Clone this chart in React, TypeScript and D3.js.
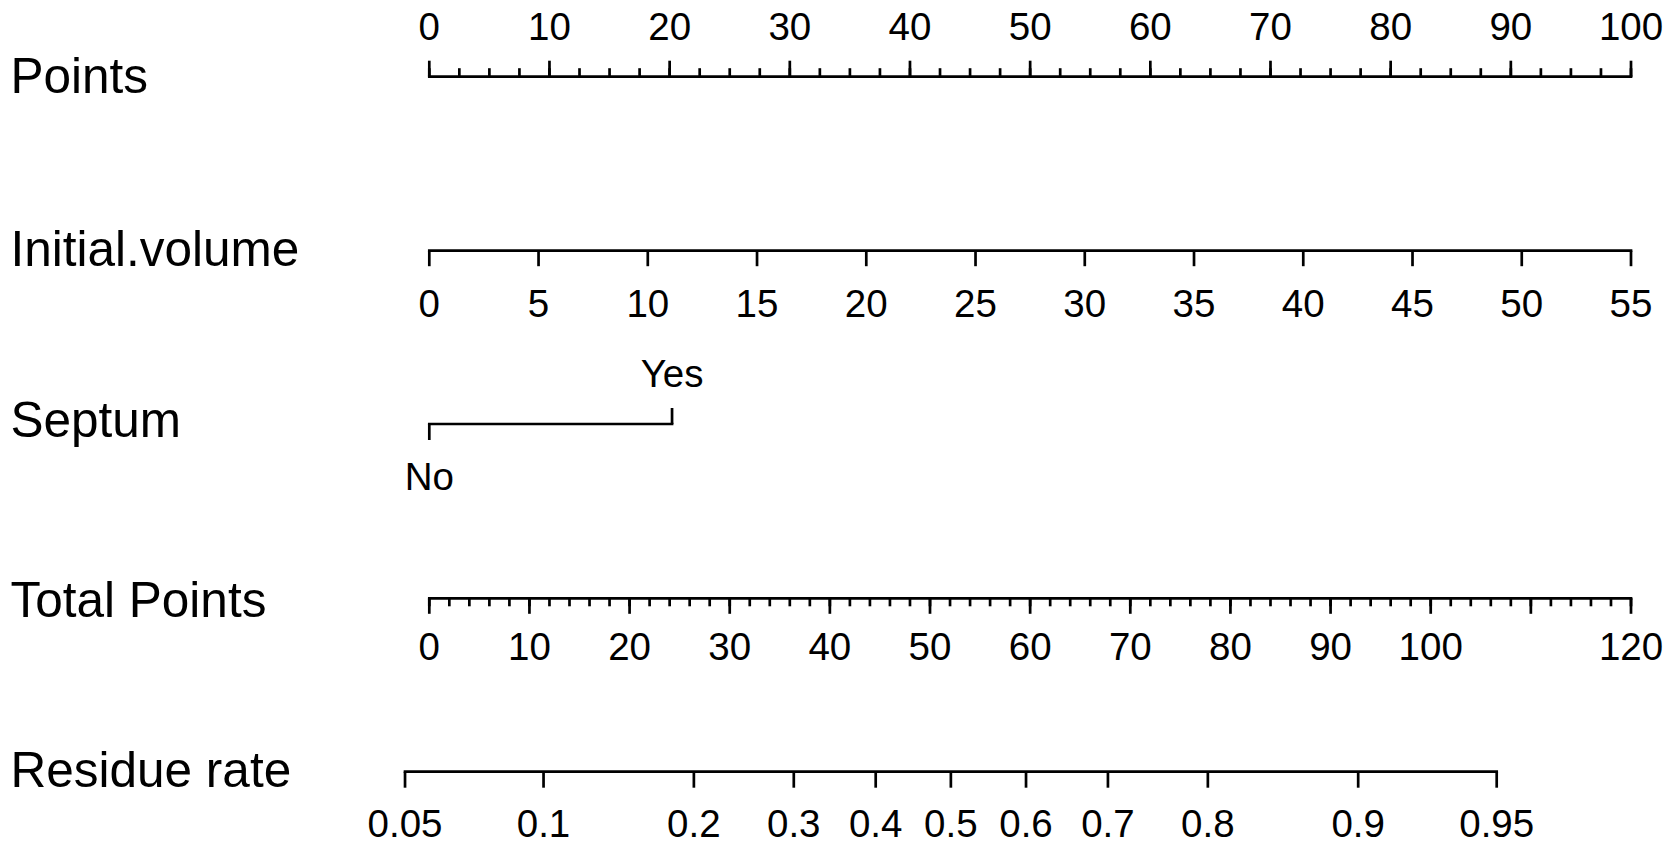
import React from "react";
import * as d3 from "d3";

const rowLabels = ["Points", "Initial.volume", "Septum", "Total Points", "Residue rate"];
const pointsMajor = d3.range(0, 101, 10);
const pointsMinor = d3.range(0, 100.01, 2.5);
const volumeTicks = d3.range(0, 56, 5);
const volumeMax = 55;
const septumLevels = ["No", "Yes"];
const septumPoints = [0, 20.2];
const totalMajor = d3.range(0, 121, 10);
const totalLabels = [0, 10, 20, 30, 40, 50, 60, 70, 80, 90, 100, 120];
const totalMinor = d3.range(0, 120.01, 2);
const residueTicks = [0.05, 0.1, 0.2, 0.3, 0.4, 0.5, 0.6, 0.7, 0.8, 0.9, 0.95];
const lpIntercept = -2.8135;
const lpPerPoint = 0.05402;

const W = 1676;
const H = 844;
const X0 = 429.3;
const X1 = 1631;
const SW = 2.7;
const FONT = "'Liberation Sans', Arial, sans-serif";
const LABEL_SIZE = 49.5;
const TICK_SIZE = 38.5;

export default function App() {
  const xPts = d3.scaleLinear().domain([0, 100]).range([X0, X1]);
  const xVol = d3.scaleLinear().domain([0, volumeMax]).range([xPts(0), xPts(100)]);
  const xTot = d3.scaleLinear().domain([0, 120]).range([X0, X1]);
  const residueToTotal = (p: number) => (Math.log(p / (1 - p)) - lpIntercept) / lpPerPoint;
  const xRes = (p: number) => xTot(residueToTotal(p));

  const yPts = 76.7, yVol = 250.7, ySep = 424, yTot = 598.3, yRes = 771.7;
  const labelBaselines = [93.3, 266, 437.3, 616.7, 787.3];

  const line = (x1: number, x2: number, y: number, key: string) => (
    <line key={key} x1={x1} x2={x2} y1={y} y2={y} stroke="#000" strokeWidth={SW} strokeLinecap="square" />
  );
  const tick = (x: number, y1: number, y2: number, key: string) => (
    <line key={key} x1={x} x2={x} y1={y1} y2={y2} stroke="#000" strokeWidth={SW} />
  );
  const txt = (x: number, y: number, s: string, key: string, anchor = "middle", size = TICK_SIZE) => (
    <text key={key} x={x} y={y} textAnchor={anchor} fontSize={size} fontFamily={FONT} fill="#000">{s}</text>
  );

  return (
    <svg width={W} height={H} style={{ position: "absolute", left: 0, top: 0, background: "#fff" }}>
      <rect width={W} height={H} fill="#fff" />
      {rowLabels.map((l, i) => txt(10.5, labelBaselines[i], l, "lab" + i, "start", LABEL_SIZE))}

      {/* Points */}
      {line(xPts(0), xPts(100), yPts, "pl")}
      {pointsMinor.map((v) => tick(xPts(v), yPts, yPts - 8.5, "pm" + v))}
      {pointsMajor.map((v) => tick(xPts(v), yPts, yPts - 16, "pM" + v))}
      {pointsMajor.map((v) => txt(xPts(v), 40, String(v), "pt" + v))}

      {/* Initial.volume */}
      {line(xVol(0), xVol(volumeMax), yVol, "vl")}
      {volumeTicks.map((v) => tick(xVol(v), yVol, yVol + 15.5, "vt" + v))}
      {volumeTicks.map((v) => txt(xVol(v), 316.7, String(v), "vx" + v))}

      {/* Septum */}
      {line(xPts(septumPoints[0]), xPts(septumPoints[1]), ySep, "sl")}
      {tick(xPts(septumPoints[0]), ySep, ySep + 16, "s0")}
      {tick(xPts(septumPoints[1]), ySep, ySep - 16, "s1")}
      {txt(xPts(septumPoints[0]), 490, septumLevels[0], "sx0")}
      {txt(xPts(septumPoints[1]), 386.7, septumLevels[1], "sx1")}

      {/* Total Points */}
      {line(xTot(0), xTot(120), yTot, "tl")}
      {totalMinor.map((v) => tick(xTot(v), yTot, yTot + 8, "tm" + v))}
      {totalMajor.map((v) => tick(xTot(v), yTot, yTot + 15.5, "tM" + v))}
      {totalLabels.map((v) => txt(xTot(v), 660, String(v), "tx" + v))}

      {/* Residue rate */}
      {line(xRes(residueTicks[0]), xRes(residueTicks[residueTicks.length - 1]), yRes, "rl")}
      {residueTicks.map((p) => tick(xRes(p), yRes, yRes + 16, "rt" + p))}
      {residueTicks.map((p) => txt(xRes(p), 836.7, String(p), "rx" + p))}
    </svg>
  );
}
